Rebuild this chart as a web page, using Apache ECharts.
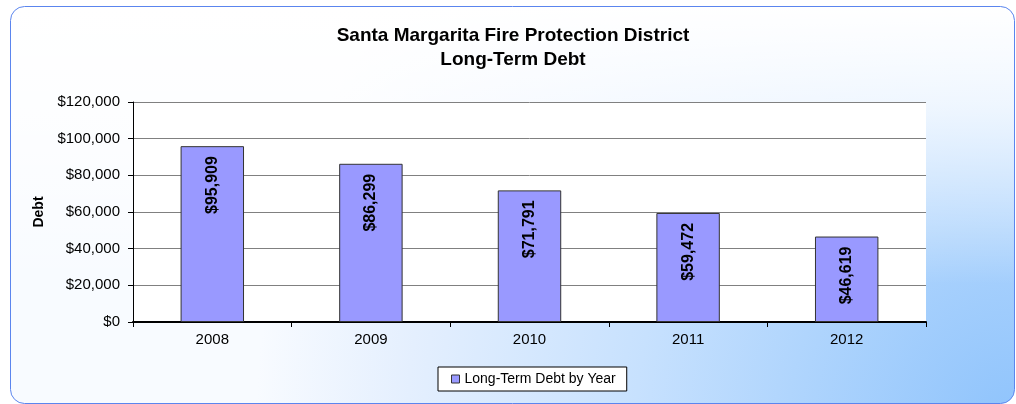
<!DOCTYPE html>
<html>
<head>
<meta charset="utf-8">
<script src="https://cdn.jsdelivr.net/npm/echarts@6/dist/echarts.min.js"></script>
<style>
  html, body { margin: 0; padding: 0; background: #fff; }
  #chart { width: 1016px; height: 404px; }
</style>
</head>
<body>
<div id="chart"></div>
<script>
var years = ['2008', '2009', '2010', '2011', '2012'];
var debt = [95909, 86299, 71791, 59472, 46619];
var seriesName = 'Long-Term Debt by Year';

var chart = echarts.init(document.getElementById('chart'));

function money(v) {
  return '$' + Number(v).toLocaleString('en-US');
}

// rounded frame behind the chart
var frame = { x: 10.5, y: 6.5, width: 1004, height: 397, r: 14 };

var option = {
  animation: false,
  textStyle: { fontFamily: 'Liberation Sans, Arial, sans-serif' },
  graphic: [{
    type: 'rect',
    z: -10,
    shape: frame,
    style: {
      fill: new echarts.graphic.RadialGradient(1016, 425, 760, [
        { offset: 0, color: '#8ec3fc' },
        { offset: 0.3, color: '#b0d5fd' },
        { offset: 0.5, color: '#c7e1fe' },
        { offset: 0.8, color: '#e4effe' },
        { offset: 1, color: '#f8fbff' }
      ], true)
    }
  }, {
    type: 'rect',
    z: -9,
    shape: frame,
    style: {
      fill: new echarts.graphic.LinearGradient(0, 0, 0, 1, [
        { offset: 0, color: 'rgba(255,255,255,1)' },
        { offset: 0.25, color: 'rgba(255,255,255,0.75)' },
        { offset: 0.7, color: 'rgba(255,255,255,0)' },
        { offset: 1, color: 'rgba(255,255,255,0)' }
      ]),
      stroke: '#5b85ee',
      lineWidth: 1
    }
  }],
  title: {
    text: 'Santa Margarita Fire Protection District\nLong-Term Debt',
    left: 508,
    textAlign: 'center',
    top: 19,
    textStyle: { fontSize: 19, fontWeight: 'bold', color: '#000', lineHeight: 24 }
  },
  legend: {
    data: [seriesName],
    left: 438,
    top: 367,
    itemWidth: 8,
    itemHeight: 8,
    padding: [5, 11, 5, 13],
    backgroundColor: '#fff',
    borderColor: '#000',
    borderWidth: 1,
    borderRadius: 0,
    textStyle: { fontSize: 14, color: '#000' },
    icon: 'rect',
    itemStyle: { borderColor: '#333', borderWidth: 1 }
  },
  grid: {
    left: 133, right: 90, top: 102, bottom: 82,
    show: true,
    backgroundColor: '#fff',
    borderWidth: 0
  },
  xAxis: {
    type: 'category',
    data: years,
    axisLine: { lineStyle: { color: '#000', width: 2 } },
    axisTick: { show: true, length: 5, lineStyle: { color: '#000' } },
    axisLabel: { fontSize: 15, color: '#000', margin: 10 }
  },
  yAxis: {
    type: 'value',
    min: 0,
    max: 120000,
    interval: 20000,
    name: 'Debt',
    nameLocation: 'middle',
    nameGap: 86,
    nameTextStyle: { fontSize: 14, fontWeight: 'bold', color: '#000' },
    axisLine: { show: true, lineStyle: { color: '#000', width: 1 } },
    axisTick: { show: true, length: 5, lineStyle: { color: '#000' } },
    axisLabel: { fontSize: 15, color: '#000', margin: 13, formatter: money },
    splitLine: { lineStyle: { color: '#808080', width: 1 } }
  },
  series: [{
    name: seriesName,
    type: 'bar',
    data: debt,
    barWidth: '40%',
    itemStyle: { color: '#9999ff', borderColor: '#333', borderWidth: 1 },
    label: {
      show: true,
      position: 'insideTop',
      rotate: 90,
      align: 'right',
      verticalAlign: 'middle',
      distance: 10,
      fontSize: 16,
      fontWeight: 'bold',
      color: '#000',
      formatter: function (p) { return money(p.value); }
    }
  }]
};

chart.setOption(option);
</script>
</body>
</html>
